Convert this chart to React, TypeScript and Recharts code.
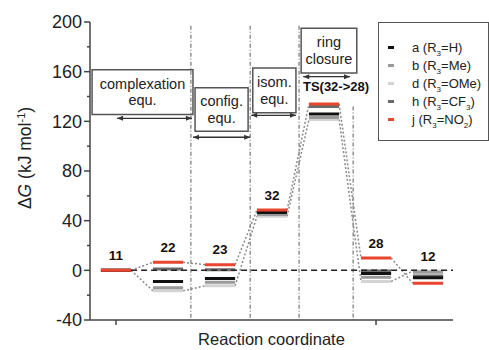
import {
  ComposedChart,
  Line,
  XAxis,
  YAxis,
  ReferenceLine,
  ReferenceArea,
  Scatter,
  Legend,
} from "recharts";

// species along the reaction coordinate
const species = ["11", "22", "23", "32", "TS(32->28)", "28", "12"];

// ΔG levels (kJ/mol) per substituent
const levelsA = [0, -9, -6.5, 46.5, 126, -2.5, -6];
const levelsB = [0, -14, -9.5, 45, 123, -5.5, -1.5];
const levelsD = [0, -16.5, -12.5, 43.5, 121.5, -9, -0.5];
const levelsH = [0, 1, 0.5, 47.5, 132, -0.5, -4.5];
const levelsJ = [0, 6.5, 4.5, 48.5, 134, 10, -10.5];

const yTicks = [-40, -20, 0, 20, 40, 60, 80, 100, 120, 140, 160, 180, 200];
const xTicks = [1, 6];

const series = [
  { key: "a", sub: "H", subIdx: "", color: "#111111", values: levelsA },
  { key: "b", sub: "Me", subIdx: "", color: "#9a9a9a", values: levelsB },
  { key: "d", sub: "OMe", subIdx: "", color: "#d4d4d4", values: levelsD },
  { key: "h", sub: "CF", subIdx: "3", color: "#6b6b6b", values: levelsH },
  { key: "j", sub: "NO", subIdx: "2", color: "#e8462f", values: levelsJ },
];
const drawOrder = ["d", "b", "h", "a", "j"];
const linked = ["j", "d"];

const HALF = 0.29;

const levelData = (vals: number[]) =>
  vals.flatMap((v, i) => [
    { x: i + 1 - HALF, y: v },
    { x: i + 1 + HALF, y: v },
    { x: i + 1 + HALF + 0.01, y: null },
  ]);

const linkData = (vals: number[]) =>
  vals.slice(0, -1).flatMap((v, i) => [
    { x: i + 1 + HALF, y: v },
    { x: i + 2 - HALF, y: vals[i + 1] },
    { x: i + 2 - HALF + 0.01, y: null },
  ]);

const labelData = species.map((name, i) => ({
  x: i + 1,
  y: Math.max(...series.map((s) => s.values[i])),
  name,
}));

// annotation boxes and arrows (data units)
const boxes = [
  { x1: 0.54, x2: 2.48, y1: 125.6, y2: 161.6, lines: ["complexation", "equ."] },
  { x1: 2.52, x2: 3.54, y1: 112, y2: 147, lines: ["config.", "equ."] },
  { x1: 3.63, x2: 4.46, y1: 127, y2: 163, lines: ["isom.", "equ."] },
  { x1: 4.56, x2: 5.63, y1: 159, y2: 195, lines: ["ring", "closure"] },
];
const arrows = [
  { x1: 1.02, x2: 2.46, y: 122.4 },
  { x1: 2.48, x2: 3.58, y: 107.2 },
  { x1: 3.6, x2: 4.46, y: 124.8 },
  { x1: 4.6, x2: 5.5, y: 156 },
];
const dividers = [
  { x: 2.44, top: 197 },
  { x: 3.58, top: 197 },
  { x: 4.52, top: 197 },
  { x: 5.56, top: 132 },
];

const YTick = ({ x, y, payload }: any) => {
  const major = payload.value % 40 === 0;
  return (
    <g>
      <line x1={x - (major ? 6 : 3)} x2={x} y1={y} y2={y} stroke="#444" strokeWidth={1.5} />
      {major && (
        <text x={x - 8} y={y} dy="0.36em" textAnchor="end" fontSize={18} fill="#222">
          {payload.value}
        </text>
      )}
    </g>
  );
};

const YLabel = () => (
  <text
    x={25}
    y={158}
    transform="rotate(-90 25 158)"
    textAnchor="middle"
    dy="0.35em"
    fontSize={17.5}
    fill="#222"
  >
    Δ<tspan fontStyle="italic">G</tspan> (kJ mol
    <tspan dy={-6} fontSize={11}>-1</tspan>
    <tspan dy={6}>)</tspan>
  </text>
);

const boxLabel = (lines: string[]) => (props: any) => {
  const { x, y, width, height } = props.viewBox;
  const cx = x + width / 2;
  const cy = y + height / 2;
  return (
    <text textAnchor="middle" fontSize={14.5} fill="#222">
      {lines.map((l, k) => (
        <tspan key={k} x={cx} y={cy + (k - (lines.length - 1) / 2) * 16.5} dy="0.35em">
          {l}
        </tspan>
      ))}
    </text>
  );
};

const Arrow = (p: any) => {
  const { x1, y1, x2, y2 } = p;
  return (
    <g>
      <line x1={x1} y1={y1} x2={x2} y2={y2} stroke="#333" strokeWidth={1.3} />
      <path d={`M${x1},${y1} l6,-2.5 v5 z`} fill="#333" />
      <path d={`M${x2},${y2} l-6,-2.5 v5 z`} fill="#333" />
    </g>
  );
};

const SpeciesLabel = (p: any) => {
  const ts = p.payload.name.startsWith("TS");
  return (
    <text
      x={p.cx + (ts ? 12 : 0)}
      y={p.cy - (ts ? 18 : 15)}
      dy="0.35em"
      textAnchor="middle"
      fontWeight="bold"
      fontSize={ts ? 13 : 13.5}
      fill="#111"
    >
      {p.payload.name}
    </text>
  );
};

const LegendBox = () => (
  <div
    style={{
      width: 111,
      height: 119,
      boxSizing: "border-box",
      border: "1.5px solid #555",
      background: "#fff",
      paddingTop: 15,
      fontSize: 13,
      color: "#222",
    }}
  >
    {series.map((s) => (
      <div key={s.key} style={{ display: "flex", alignItems: "center", height: 18 }}>
        <span
          style={{ width: 6, height: 3, background: s.color, marginLeft: 9, marginRight: 18 }}
        />
        <span>
          {s.key} (R<sub style={{ fontSize: 8, lineHeight: 0 }}>3</sub>={s.sub}
          {s.subIdx && <sub style={{ fontSize: 8, lineHeight: 0 }}>{s.subIdx}</sub>})
        </span>
      </div>
    ))}
  </div>
);

export default function App() {
  const byKey = (k: string) => series.find((s) => s.key === k)!;
  return (
    <div style={{ position: "absolute", left: 0, top: 0, background: "#fff" }}>
      <ComposedChart
        width={489}
        height={350}
        margin={{ top: 22, right: 36, left: 0, bottom: 0 }}
        style={{ fontFamily: "'Liberation Sans', Arial, sans-serif" }}
      >
        <XAxis
          dataKey="x"
          type="number"
          domain={[0.5, 7.48]}
          allowDataOverflow
          ticks={xTicks}
          tickFormatter={() => ""}
          tickSize={5}
          height={30}
          axisLine={{ stroke: "#444", strokeWidth: 1.5 }}
          tickLine={{ stroke: "#444", strokeWidth: 1.5 }}
          label={{
            value: "Reaction coordinate",
            position: "insideBottom",
            offset: 5,
            fontSize: 16.5,
            fill: "#222",
          }}
        />
        <XAxis
          xAxisId="top"
          orientation="top"
          type="number"
          domain={[0.5, 7.48]}
          height={0}
          tick={false}
          tickLine={false}
          axisLine={{ stroke: "#444", strokeWidth: 1.5 }}
        />
        <YAxis
          dataKey="y"
          type="number"
          domain={[-40, 200]}
          allowDataOverflow
          ticks={yTicks}
          interval={0}
          width={90}
          tickSize={0}
          tickMargin={0}
          tickLine={false}
          tick={<YTick />}
          axisLine={{ stroke: "#444", strokeWidth: 1.5 }}
          label={{ content: () => <YLabel /> }}
        />
        <YAxis
          yAxisId="right"
          orientation="right"
          width={0}
          tick={false}
          tickLine={false}
          axisLine={{ stroke: "#444", strokeWidth: 1.5 }}
        />

        {dividers.map((d, i) => (
          <ReferenceLine
            key={`div${i}`}
            segment={[
              { x: d.x, y: d.top },
              { x: d.x, y: -40 },
            ]}
            stroke="#777"
            strokeWidth={1.2}
            strokeDasharray="4 2 1 2"
          />
        ))}

        {boxes.map((b, i) => (
          <ReferenceArea
            key={`box${i}`}
            x1={b.x1}
            x2={b.x2}
            y1={b.y1}
            y2={b.y2}
            fill="#fff"
            fillOpacity={1}
            stroke="#555"
            strokeWidth={1.5}
            label={{ content: boxLabel(b.lines) }}
          />
        ))}

        {arrows.map((a, i) => (
          <ReferenceLine
            key={`arr${i}`}
            segment={[
              { x: a.x1, y: a.y },
              { x: a.x2, y: a.y },
            ]}
            shape={<Arrow />}
          />
        ))}

        {linked.map((k) => (
          <Line
            key={`link${k}`}
            data={linkData(byKey(k).values)}
            dataKey="y"
            stroke="#8a8a8a"
            strokeWidth={1.5}
            strokeDasharray="2 2"
            dot={false}
            activeDot={false}
            legendType="none"
            isAnimationActive={false}
          />
        ))}

        {drawOrder.map((k) => {
          const s = byKey(k);
          return (
            <Line
              key={k}
              name={k}
              data={levelData(s.values)}
              dataKey="y"
              stroke={s.color}
              strokeWidth={3}
              dot={false}
              activeDot={false}
              isAnimationActive={false}
            />
          );
        })}

        <ReferenceLine
          segment={[
            { x: 1 + HALF, y: 0 },
            { x: 7.48, y: 0 },
          ]}
          stroke="#222"
          strokeWidth={1.5}
          strokeDasharray="6 4"
        />

        <Scatter
          data={labelData}
          dataKey="y"
          shape={<SpeciesLabel />}
          legendType="none"
          isAnimationActive={false}
        />

        <Legend
          layout="vertical"
          align="center"
          verticalAlign="middle"
          content={<LegendBox />}
          wrapperStyle={{ left: 378, top: 22, width: 111 }}
        />
      </ComposedChart>
    </div>
  );
}
